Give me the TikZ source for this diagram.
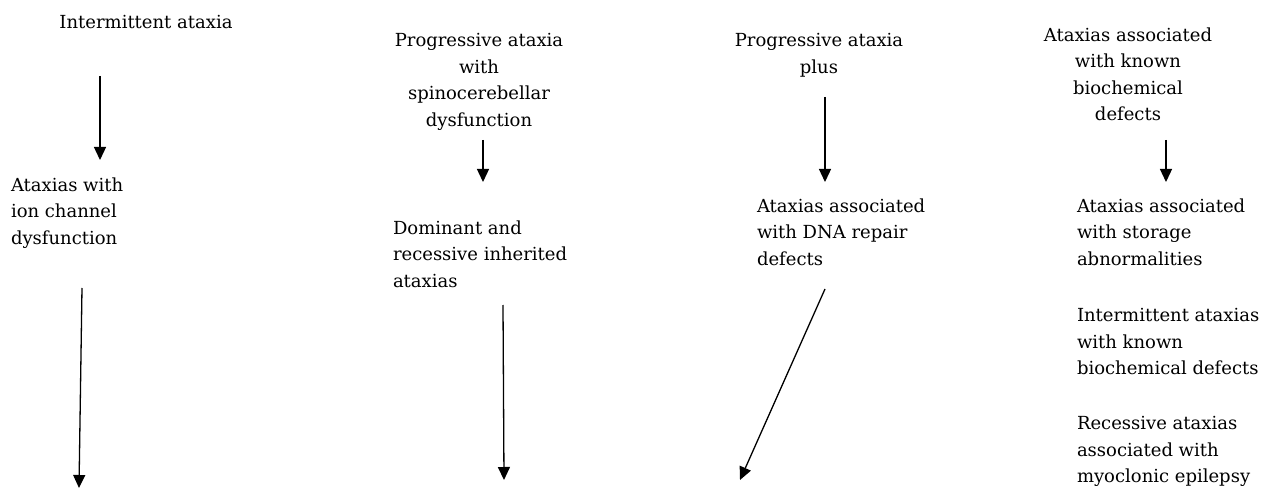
\documentclass[tikz,border=0pt]{standalone}
\usepackage{fontspec}
\setmainfont{DejaVu Serif}
\usetikzlibrary{arrows.meta}
\tikzset{
  lbl/.style={inner sep=0pt, outer sep=0pt, font=\fontsize{18}{26.5}\selectfont},
  lblc/.style={lbl, align=center, anchor=north},
  lbll/.style={lbl, align=left, anchor=north west},
  arr/.style={line width=1.3pt, draw=black, -{Triangle[length=13pt,width=12pt]}}
}
\begin{document}
\begin{tikzpicture}[x=1pt,y=-1pt]
\useasboundingbox (0,0) rectangle (1275,489);
% column 1
\node[lblc] (t1) at (146,15.5) {Intermittent ataxia};
\node[lbll] (m1) at (11,177.5) {Ataxias with\\ion channel\\dysfunction};
% column 2
\node[lblc] (t2) at (479,33.5) {Progressive ataxia\\with\\spinocerebellar\\dysfunction};
\node[lbll] (m2) at (393,220.5) {Dominant and\\recessive inherited\\ataxias};
% column 3
\node[lblc] (t3) at (819,33.5) {Progressive ataxia\\plus};
\node[lbll] (m3) at (757,198.5) {Ataxias associated\\with DNA repair\\defects};
% column 4
\node[lblc] (t4) at (1128,27.5) {Ataxias associated\\with known\\biochemical\\defects};
\node[lbll] (r1) at (1077,198.5) {Ataxias associated\\with storage\\abnormalities};
\node[lbll] (r2) at (1077,308.5) {Intermittent ataxias\\with known\\biochemical defects};
\node[lbll] (r3) at (1077,416.5) {Recessive ataxias\\associated with\\myoclonic epilepsy};
% arrow end points
\coordinate (a1s) at (100,76);  \coordinate (a1e) at (100,160);
\coordinate (a2s) at (82,288);  \coordinate (a2e) at (79,488);
\coordinate (a3s) at (483,140); \coordinate (a3e) at (483,182);
\coordinate (a4s) at (503,305); \coordinate (a4e) at (504,480);
\coordinate (a5s) at (825,97);  \coordinate (a5e) at (825,182);
\coordinate (a6s) at (825,289); \coordinate (a6e) at (740,480);
\coordinate (a7s) at (1166,140); \coordinate (a7e) at (1166,182);
\draw[arr] (a1s) -- (a1e);
\draw[arr] (a2s) -- (a2e);
\draw[arr] (a3s) -- (a3e);
\draw[arr] (a4s) -- (a4e);
\draw[arr] (a5s) -- (a5e);
\draw[arr] (a6s) -- (a6e);
\draw[arr] (a7s) -- (a7e);
\end{tikzpicture}
\end{document}
